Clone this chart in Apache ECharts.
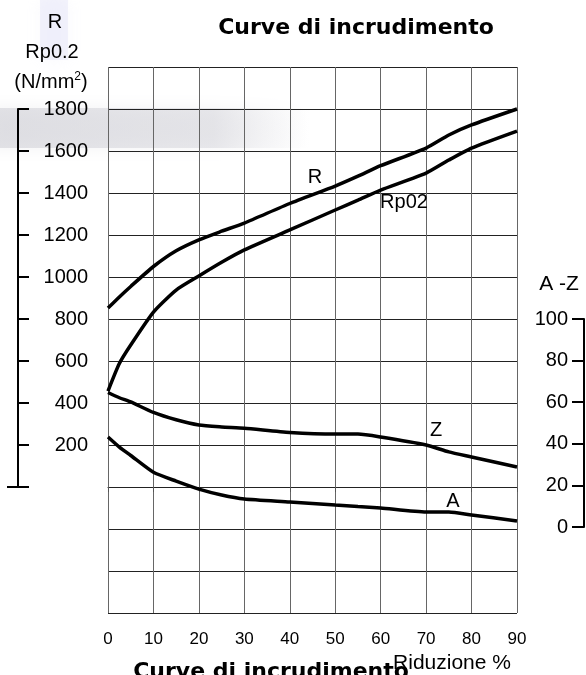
<html>
<head>
    <meta charset="utf-8" />
    <title>Curve di incrudimento</title>
    <script src="https://cdnjs.cloudflare.com/ajax/libs/echarts/6.0.0/echarts.min.js"></script>
    <style>
        body { margin: 0; background: #fff; }
    </style>
</head>
<body>
    <div id="chart" style="width: 586px;height:675px;"></div>
    <script type="text/javascript">
        // riduzione % (common x values for all curves)
        var reduction = [0, 2.5, 5, 10, 15, 20, 25, 30, 40, 50, 55, 60, 70, 75, 80, 90];
        // R and Rp0.2 in N/mm2 (left scale)
        var rTensile = [852, 905, 955, 1050, 1125, 1177, 1218, 1257, 1350, 1433, 1480, 1530, 1614, 1676, 1724, 1800];
        var rp02 = [457, 588, 676, 833, 938, 1005, 1070, 1129, 1224, 1319, 1366, 1414, 1495, 1557, 1614, 1695];
        // Z and A in % (right scale)
        var zVals = [65, 62.5, 60.5, 55.5, 52, 49.5, 48.6, 48, 46, 45.2, 45.2, 43.8, 40, 36.7, 34.3, 29.5];
        var aVals = [43.8, 39, 35, 27, 22.8, 19, 16.2, 14.3, 12.9, 11.4, 10.7, 10, 8.1, 8.1, 6.7, 3.8];

        var font = 'Liberation Sans, Arial, sans-serif';

        function pairs(ys) {
            return reduction.map(function (x, i) { return [x, ys[i]]; });
        }

        function curve(name, ys, yIdx) {
            return {
                name: name,
                type: 'line',
                xAxisIndex: 0,
                yAxisIndex: yIdx,
                data: pairs(ys),
                smooth: 0.2,
                symbol: 'none',
                lineStyle: { color: '#000', width: 3.5 },
                z: 5
            };
        }

        function txt(s, x, y, size, bold, align) {
            return {
                type: 'text',
                x: x,
                y: y,
                z: 20,
                style: {
                    text: s,
                    fill: '#000',
                    font: (bold ? 'bold ' : '') + size + 'px ' + (bold ? 'DejaVu Sans' : font),
                    align: align || 'center',
                    verticalAlign: 'middle'
                }
            };
        }

        var chart = echarts.init(document.getElementById('chart'));
        var option = {
            animation: false,
            backgroundColor: '#fff',
            grid: [
                { left: 108, right: 69, top: 67, bottom: 62 },
                { left: 18, width: 1, top: 109, height: 378 },
                { left: 584, width: 1, top: 319, height: 208 }
            ],
            xAxis: [
                {
                    type: 'value', gridIndex: 0, min: 0, max: 90, interval: 10,
                    axisLine: { show: true, lineStyle: { color: '#222', width: 1 } },
                    axisTick: { show: true, length: 5, lineStyle: { color: '#555' } },
                    axisLabel: { color: '#000', fontSize: 17, fontFamily: font, margin: 18 },
                    splitLine: { show: true, lineStyle: { color: '#666', width: 1 } }
                },
                { type: 'value', gridIndex: 1, show: false },
                { type: 'value', gridIndex: 2, show: false }
            ],
            yAxis: [
                {
                    type: 'value', gridIndex: 0, min: -600, max: 2000, interval: 200,
                    axisLine: { show: false }, axisTick: { show: false }, axisLabel: { show: false },
                    splitLine: { show: true, lineStyle: { color: '#222', width: 1 } }
                },
                {
                    type: 'value', gridIndex: 0, min: -40, max: 220, interval: 20, show: false,
                    splitLine: { show: false }
                },
                {
                    type: 'value', gridIndex: 1, position: 'left', min: 0, max: 1800, interval: 200,
                    axisLine: { show: true, lineStyle: { color: '#000', width: 2 } },
                    axisTick: { show: true, inside: true, length: 11, lineStyle: { color: '#000', width: 2 } },
                    axisLabel: {
                        inside: true, align: 'right', margin: 70, color: '#000', fontSize: 20, fontFamily: font,
                        formatter: function (v) { return v === 0 ? '' : String(v); }
                    },
                    splitLine: { show: false }
                },
                {
                    type: 'value', gridIndex: 2, position: 'right', min: 0, max: 100, interval: 20,
                    axisLine: { show: true, lineStyle: { color: '#000', width: 2 } },
                    axisTick: { show: true, inside: true, length: 12, lineStyle: { color: '#000', width: 2 } },
                    axisLabel: { inside: true, align: 'right', margin: 17, color: '#000', fontSize: 20, fontFamily: font },
                    splitLine: { show: false }
                }
            ],
            graphic: [
                // faint smudge of the scanned background
                {
                    type: 'rect', z: -5, silent: true,
                    shape: { x: -10, y: 108, width: 320, height: 40 },
                    style: {
                        fill: new echarts.graphic.LinearGradient(0, 0, 1, 0, [
                            { offset: 0, color: 'rgba(205,205,212,0.55)' },
                            { offset: 0.7, color: 'rgba(208,208,215,0.45)' },
                            { offset: 1, color: 'rgba(225,225,230,0)' }
                        ]),
                        shadowBlur: 16, shadowColor: 'rgba(205,205,212,0.5)'
                    }
                },
                {
                    type: 'rect', z: -5, silent: true,
                    shape: { x: 40, y: 0, width: 28, height: 60 },
                    style: { fill: 'rgba(220,220,245,0.35)', shadowBlur: 14, shadowColor: 'rgba(220,220,245,0.5)' }
                },
                {
                    type: 'line', z: 10,
                    shape: { x1: 7, y1: 487, x2: 29, y2: 487 },
                    style: { stroke: '#000', lineWidth: 2 }
                },
                txt('Curve di incrudimento', 356, 28, 22, true),
                txt('Curve di incrudimento', 271, 672, 22, true),
                txt('Riduzione %', 452, 663, 21, false),
                txt('R', 55, 22, 20, false),
                txt('Rp0.2', 52, 52, 20, false),
                {
                    type: 'text', x: 51, y: 82, z: 20,
                    style: {
                        text: '(N/mm{sup|2})',
                        fill: '#000',
                        font: '20px ' + font,
                        align: 'center',
                        verticalAlign: 'middle',
                        rich: { sup: { fontSize: 12, fontFamily: font, verticalAlign: 'top', padding: [0, 0, 10, 0] } }
                    }
                },
                txt('A -Z', 559, 284, 21, false),
                txt('R', 315, 177, 20, false),
                txt('Rp02', 404, 202, 20, false),
                txt('Z', 436, 430, 20, false),
                txt('A', 453, 501, 20, false)
            ],
            series: [
                curve('R', rTensile, 0),
                curve('Rp02', rp02, 0),
                curve('Z', zVals, 1),
                curve('A', aVals, 1)
            ]
        };
        option && chart.setOption(option);
    </script>
</body>
</html>
